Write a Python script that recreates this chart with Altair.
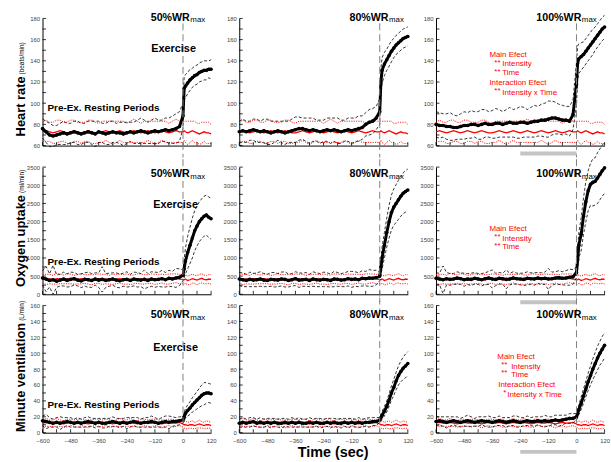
import altair as alt
import pandas as pd

FONT = "Liberation Sans, Arial, Helvetica, sans-serif"

# time grid (s): resting period every 15 s, exercise finer
T_REST = [-600 + 15 * i for i in range(40)]
T_EX = [0, 5, 10, 20, 30, 40, 50, 60, 70, 80, 90, 100, 110, 120]
T = T_REST + T_EX

# ---------------- Heart rate (beats/min) ----------------
HR_50_M = [76,73,70,69,70,71,72,71,72,73, 72,71,72,73,72,71,73,72,71,72,
           73,72,72,71,72,73,72,73,74,73, 72,73,74,73,74,75,74,75,76,78] + \
          [88,114,116,119,122,124,126,127,129,130,131,131,132,132]
HR_50_SD = [9,10,11,10,9,10,11,10,9,10, 11,10,9,10,11,12,10,9,10,11,
            10,9,10,11,10,9,10,11,12,11, 10,11,12,11,10,11,12,13,14,14] + \
           [12,11,11,10,10,9,9,9,9,9,9,9,8,9]
HR_80_M = [73,74,73,74,75,74,73,74,73,72, 73,74,73,72,73,74,75,76,76,75,
           74,75,74,73,74,75,74,75,74,73, 74,75,74,75,76,77,80,82,83,86] + \
          [92,120,131,137,141,145,149,152,155,157,159,161,162,163]
HR_80_SD = [10,11,10,9,10,11,10,11,12,11, 10,9,10,11,10,11,12,11,10,11,
            12,11,10,11,10,11,12,11,12,11, 10,11,12,11,12,11,11,12,12,11] + \
           [12,13,12,11,10,10,10,9,9,9,9,9,9,9]
HR_100_M = [80,79,79,78,78,77,77,78,79,79, 80,80,79,80,81,80,80,81,81,80,
            81,82,81,81,82,82,81,82,83,83, 84,84,85,86,86,85,84,84,83,89] + \
           [118,138,142,144,146,149,152,155,158,161,164,167,170,172]
HR_100_SD = [12,12,11,12,13,12,11,12,13,12, 13,12,13,14,13,12,13,14,13,12,
             13,14,13,14,15,14,13,14,15,14, 15,16,17,16,15,14,14,13,14,14] + \
            [20,16,14,13,12,12,12,12,12,11,11,11,11,11]
HR_CTL_M = [73,74,73,72,73,74,73,72,73,74, 73,72,73,74,73,72,72,73,74,73,
            72,73,74,73,72,73,74,73,72,73, 74,73,72,73,74,73,72,73,74,73] + \
           [73,74,73,72,73,74,73,72,71,72,73,72,72,71]
HR_CTL_SD = [9,10,9,10,11,10,9,10,11,10, 9,10,9,10,11,10,9,10,9,10,
             11,10,9,10,9,10,11,10,9,10, 9,10,11,10,9,10,9,10,11,10] + \
            [10,9,10,11,10,9,10,9,10,10,9,10,10,9]

# ---------------- Oxygen uptake (ml/min) ----------------
VO2_50_M = [450,420,380,400,360,390,420,380,410,430, 390,370,410,400,380,420,390,410,380,400,
            420,390,370,400,410,380,420,400,390,410, 380,420,400,410,430,400,440,420,450,470] + \
           [520,700,900,1150,1350,1550,1750,1880,2000,2080,2150,2180,2120,2080]
VO2_50_SD = [200,350,180,400,170,160,190,180,200,170, 160,190,180,210,190,170,200,350,190,180,
             170,200,190,180,210,170,190,200,180,260, 190,200,210,190,230,200,220,210,260,230] + \
            [150,250,350,450,500,550,550,550,550,550,550,550,560,560]
VO2_80_M = [420,400,380,410,390,400,420,390,380,410, 400,390,420,410,380,400,430,390,400,410,
            380,420,400,390,410,400,380,420,410,390, 400,430,410,420,400,440,430,450,440,460] + \
           [500,750,1000,1350,1700,2000,2250,2400,2500,2600,2700,2780,2830,2870]
VO2_80_SD = [180,190,170,200,180,190,200,180,170,190, 200,180,190,210,180,170,190,200,180,190,
             170,200,190,180,200,190,180,210,190,180, 190,200,220,200,190,210,200,230,220,200] + \
            [120,200,300,350,400,450,480,500,520,540,550,560,570,580]
VO2_100_M = [440,420,400,430,410,420,450,430,400,420, 410,440,420,400,430,450,420,410,440,430,
             410,420,450,430,420,410,440,430,420,450, 430,440,420,430,450,460,440,450,470,480] + \
            [600,950,1350,1650,2150,2550,2850,3030,3080,3110,3200,3300,3400,3480]
VO2_100_SD = [150,160,380,170,160,150,170,160,180,150, 170,160,150,170,160,180,250,170,160,150,
              260,160,170,150,160,170,180,160,170,150, 160,170,290,180,170,190,180,200,220,200] + \
             [150,250,350,450,500,550,550,580,650,650,700,700,700,700]
VO2_CTL_M = [430,410,420,400,430,420,410,430,420,400, 410,430,420,410,400,420,430,410,420,400,
             410,420,430,410,420,400,410,430,420,410, 420,430,410,420,430,410,420,430,440,420] + \
            [410,400,420,380,400,430,410,390,420,440,410,400,420,410]
VO2_CTL_SD = [120,140,130,120,150,130,120,140,130,120, 130,140,120,130,140,120,130,140,130,120,
              140,130,120,130,140,130,120,130,140,130, 120,130,140,130,120,130,140,130,120,130] + \
             [120,130,110,120,130,120,110,130,120,130,120,110,120,130]

# ---------------- Minute ventilation (L/min) ----------------
VE_50_M = [15,14,13,12,13,12,13,14,13,12, 13,12,13,14,13,12,13,12,12,13,
           14,13,12,13,12,13,14,13,12,13, 13,14,13,12,13,14,13,14,14,15] + \
          [16,20,24,28,31,35,38,41,44,47,49,50,50,49]
VE_50_SD = [6,9,6,5,6,8,6,5,6,5, 6,5,6,6,5,6,5,6,6,5,
            6,5,6,5,7,6,5,6,5,6, 6,7,6,5,6,7,8,6,5,5] + \
           [4,5,6,7,8,9,10,11,12,13,14,13,12,12]
VE_80_M = [12,13,12,13,14,12,13,12,13,12, 13,12,12,13,12,13,12,13,12,12,
           13,12,13,12,12,13,12,13,12,12, 13,12,13,12,13,12,13,13,14,14] + \
          [16,19,22,27,33,41,50,57,65,72,77,81,84,87]
VE_80_SD = [5,6,5,6,5,5,6,5,5,6, 5,5,6,5,5,6,5,6,5,5,
            6,5,5,6,5,5,6,5,5,6, 5,6,5,5,6,5,5,6,5,5] + \
           [3,4,5,6,7,8,9,10,11,12,13,14,15,15]
VE_100_M = [14,15,14,13,14,15,14,13,14,15, 14,13,14,15,14,14,13,14,15,14,
            13,14,15,14,13,14,15,14,14,15, 14,15,14,15,16,15,16,17,18,18] + \
           [20,24,29,37,46,55,64,72,80,87,94,100,105,110]
VE_100_SD = [6,5,6,7,6,5,6,5,6,7, 6,5,6,5,6,7,6,5,6,5,
             6,5,6,7,6,5,6,5,6,5, 6,7,6,5,6,7,6,5,6,6] + \
            [4,5,6,8,9,10,11,12,13,14,15,15,16,16]
VE_CTL_M = [12,13,12,12,13,12,11,12,13,12, 12,13,12,11,12,13,12,12,13,12,
            11,12,13,12,12,13,12,11,12,13, 12,12,13,12,11,12,13,12,12,13] + \
           [11,10,10,9,10,10,9,10,11,10,9,10,10,9]
VE_CTL_SD = [4,5,4,4,5,4,4,5,4,4, 5,4,4,5,4,4,5,4,4,5,
             4,4,5,4,4,5,4,4,5,4, 4,5,4,4,5,4,4,5,4,4] + \
            [4,4,5,4,4,5,4,4,5,4,4,5,4,4]

EX = [[(HR_50_M, HR_50_SD), (HR_80_M, HR_80_SD), (HR_100_M, HR_100_SD)],
      [(VO2_50_M, VO2_50_SD), (VO2_80_M, VO2_80_SD), (VO2_100_M, VO2_100_SD)],
      [(VE_50_M, VE_50_SD), (VE_80_M, VE_80_SD), (VE_100_M, VE_100_SD)]]
CTL = [(HR_CTL_M, HR_CTL_SD), (VO2_CTL_M, VO2_CTL_SD), (VE_CTL_M, VE_CTL_SD)]

INTENSITY = ["50%WR", "80%WR", "100%WR"]
Y_TITLES = ["Heart rate", "Oxygen uptake", "Minute ventilation"]
Y_UNITS = ["(beats/min)", "(ml/min)", "(L/min)"]
Y_DOMAINS = [[60, 180], [0, 3500], [0, 160]]
Y_LABELS = [list(range(60, 181, 20)), list(range(0, 3501, 500)), list(range(0, 161, 20))]
Y_TICKS = [list(range(60, 181, 10)), list(range(0, 3501, 250)), list(range(0, 161, 10))]
X_LABELS = [-600, -480, -360, -240, -120, 0, 120]
X_TICKS = list(range(-600, 121, 60))
ANNOT = [
    [("Main Efect", 54, 39.3), ("**", 59, 46.8), ("Intensity", 67, 48.3), ("**", 59, 55.8),
     ("Time", 67, 57.3), ("Interaction Efect", 54, 67.3), ("**", 59, 75.8), ("Intensity x Time", 67, 77.3)],
    [("Main Efect", 54, 64.3), ("**", 59, 72.8), ("Intensity", 67, 74.3), ("**", 59, 81.8), ("Time", 67, 83.3)],
    [("Main Efect", 62, 54), ("**", 66, 62.5), ("Intensity", 76, 64), ("**", 66, 70.5), ("Time", 76, 72),
     ("Interaction Efect", 63, 82), ("*", 68, 90.5), ("Intensity x Time", 72, 92)],
]

# Arial/Liberation Sans Bold advance widths (em/1000) for the rotated axis titles
BOLD_W = {" ": 278, "H": 722, "O": 778, "M": 833, "a": 556, "e": 556, "r": 389, "t": 333,
          "x": 556, "y": 556, "g": 611, "n": 611, "u": 611, "p": 611, "k": 556, "i": 278,
          "v": 556, "l": 278, "o": 611}

W = 170.5
H = 128.6
GAP_EXTRA = 10.7   # extra space above row 2 (row gaps are 21.4 and 10.7)
YT_SIZE = 13
XS = alt.Scale(domain=[-600, 120], nice=False, zero=False)
ONE = pd.DataFrame({"k": [0]})


def tx(s, x, y, size, color="black", weight="normal", align="left", angle=None, font=FONT):
    kw = dict(text=s, fontSize=size, color=color, fontWeight=weight, align=align,
              baseline="alphabetic", font=font)
    if angle is not None:
        kw["angle"] = angle
    return alt.Chart(ONE).mark_text(**kw).encode(x=alt.value(x), y=alt.value(y))


def anchor(x1, x2, y):
    return alt.Chart(ONE).mark_rule(color="white", opacity=0, strokeWidth=1).encode(
        x=alt.value(x1), x2=alt.value(x2), y=alt.value(y))


def panel(r, c):
    D = GAP_EXTRA if r == 1 else 0
    HP = H + D
    m, sd = EX[r][c]
    cm, csd = CTL[r]
    assert len(m) == len(T) and len(sd) == len(T) and len(cm) == len(T) and len(csd) == len(T)
    df = pd.DataFrame({
        "t": T, "m": m,
        "hi": [a + b for a, b in zip(m, sd)], "lo": [a - b for a, b in zip(m, sd)],
        "cm": cm,
        "chi": [a + b for a, b in zip(cm, csd)], "clo": [a - b for a, b in zip(cm, csd)],
    })
    ys = alt.Scale(domain=Y_DOMAINS[r], range=[HP, D], nice=False, zero=False)
    xa = alt.Axis(values=X_LABELS, ticks=False, grid=False, labels=(r == 2), title=None,
                  domainColor="black", domainWidth=1, labelFontSize=6, labelColor="#444",
                  labelFont=FONT, labelPadding=5, labelFlush=False, labelOverlap=False, format="d")
    ya = alt.Axis(values=Y_LABELS[r], ticks=False, grid=False, title=None,
                  domainColor="black", domainWidth=1, labelFontSize=6, labelColor="#444",
                  labelFont=FONT, labelPadding=3, labelFlush=False, labelOverlap=False, format="d")
    X = alt.X("t:Q", scale=XS, axis=xa)

    def ln(field, color, sw, dash=None):
        kw = dict(color=color, strokeWidth=sw)
        if dash:
            kw["strokeDash"] = dash
        return alt.Chart(df).mark_line(**kw).encode(
            x=X, y=alt.Y(f"{field}:Q", scale=ys, axis=ya))

    layers = [
        ln("clo", "red", 0.9, [1.2, 1.2]),
        ln("chi", "red", 0.9, [1.2, 1.2]),
        ln("cm", "red", 1.3),
        ln("lo", "black", 0.8, [3, 2]),
        ln("hi", "black", 0.8, [3, 2]),
        ln("m", "black", 3),
        alt.Chart(df).mark_circle(color="black", size=13, opacity=1).encode(
            x=X, y=alt.Y("m:Q", scale=ys, axis=ya)),
        # inward ticks
        alt.Chart(pd.DataFrame({"t": X_TICKS})).mark_rule(color="black", strokeWidth=0.8).encode(
            x=X, y=alt.value(HP), y2=alt.value(HP - 3.5)),
        alt.Chart(pd.DataFrame({"v": Y_TICKS[r]})).mark_rule(color="black", strokeWidth=0.8).encode(
            y=alt.Y("v:Q", scale=ys, axis=ya), x=alt.value(0), x2=alt.value(3.5)),
    ]
    # dashed exercise onset line
    y0, y1 = [(5, H + 12), (-8, H + 8), (-8, H)][r]
    layers.append(alt.Chart(pd.DataFrame({"t": [0]})).mark_rule(
        color="#7f7f7f", strokeWidth=1, strokeDash=[7, 4]).encode(
        x=X, y=alt.value(y0 + D), y2=alt.value(y1 + D)))

    # panel title
    E = [149, 151, 147][c]
    B = [2.3, 10.3, 13][r] + D
    layers.append(tx(INTENSITY[c], E, B, 10.8, weight="bold", align="right"))
    layers.append(tx("max", E + 0.5, B + 1.5, 8, align="left"))

    if c == 0:
        ex_x = [110, 112, 112][r]
        ex_y = [34.3, 41.3, 46][r] + D
        layers.append(tx("Exercise", ex_x, ex_y, 11, weight="bold"))
        layers.append(tx("Pre-Ex. Resting Periods", 5, [93.3, 99.3, 104][r] + D, 10, weight="bold"))
        start = [119.3, 121.3, 128][r] + D
        length = sum(BOLD_W[ch] for ch in Y_TITLES[r]) / 1000 * YT_SIZE
        layers.append(tx(Y_TITLES[r], -18, start, YT_SIZE, weight="bold",
                         align="left", angle=270))
        layers.append(tx(Y_UNITS[r], -18.5, start - length - 2, 6.5, align="left", angle=270))
    if c == 2:
        for s, x, y in ANNOT[r]:
            layers.append(tx(s, x, y + D, 8, color="red"))
        layers.append(alt.Chart(pd.DataFrame({"a": [-240], "b": [0]})).mark_rule(
            color="#c4c4c4", strokeWidth=4).encode(
            x=alt.X("a:Q", scale=XS, axis=xa), x2="b:Q",
            y=alt.value([H + 8, H + 8, 148][r] + D)))
    if r == 2 and c == 1:
        layers.append(tx("Time (sec)", 95, 153.5, 14.5, weight="bold", align="center"))
    if r == 0:
        # invisible layout anchors fixing each column's outer bounds
        left = -42.5 if c == 0 else -19.5
        right = W + 8 if c < 2 else W
        layers.append(anchor(left, right, -15.2))
    return alt.layer(*layers).properties(width=W, height=HP)


cols = [alt.vconcat(*[panel(r, c) for r in range(3)], spacing=10.7, bounds="flush")
        for c in range(3)]
chart = alt.hconcat(*cols, spacing=0).properties(
    padding=0, background="white").configure_view(stroke=None)

chart.save("out.html", embed_options={"renderer": "svg", "actions": False})
